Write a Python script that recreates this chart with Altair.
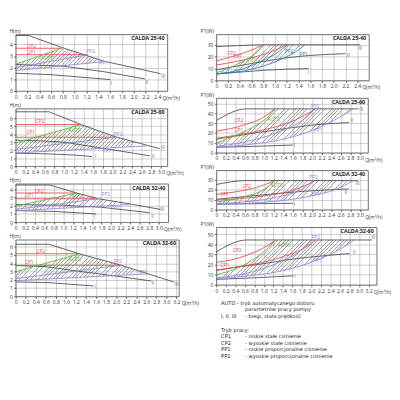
import altair as alt
import pandas as pd

FONT = "Open Sans"
LFONT = "DejaVu Sans"
RED = "#e8474f"
GREEN = "#5cb531"
LAV = "#8d88dd"
BLUE = "#2c7bc0"
DARK = "#4d4d4d"
NUM = "#666666"
HATCH = "#a3a3a3"
TXT = "#333333"

# ---------------- CALDA 25-40  H(m)
L1_I = [(0, 1.52), (0.6, 1.4), (1.6, 0.98)]
L1_II = [(0, 2.27), (0.8, 2.13), (1.5, 1.65), (2.19, 1.04)]
L1_III = [(0, 4.75), (0.22, 4.75), (0.8, 3.7), (1.5, 2.55), (2.46, 1.48)]
L1_CP1 = [(0, 3.11), (1.22, 3.11)]
L1_CP2 = [(0, 3.66), (0.78, 3.66)]
L1_AUTO = [(0, 2.3), (0.78, 3.66)]
L1_PP1 = [(0, 1.75), (1.52, 2.53)]
L1_PP2 = [(0, 2.0), (1.22, 3.11)]
L1_TOP = [(0, 2.3), (0.78, 3.66), (1.5, 2.55), (1.52, 2.53)]
L1_LAB = [("CP2", 0.27, 3.85), ("CP1", 0.27, 3.3), ("AUTO", 0.54, 2.81), ("PP2", 1.27, 3.39),
          ("PP1", 1.49, 2.35), ("III", 2.5, 1.26), ("II", 2.22, 0.77), ("I", 1.62, 0.71)]

# ---------------- CALDA 25-60  H(m)
L2_I = [(0, 1.62), (0.6, 1.55), (1.2, 1.4), (1.58, 1.2)]
L2_II = [(0, 3.25), (0.6, 3.15), (1.0, 3.0), (1.68, 2.35), (2.77, 1.3)]
L2_III = [(0, 6.8), (0.69, 6.8), (1.35, 5.2), (2.07, 3.65), (2.97, 2.2)]
L2_CP1 = [(0, 3.62), (2.07, 3.62)]
L2_CP2 = [(0, 5.2), (1.35, 5.2)]
L2_AUTO = [(0, 2.9), (1.35, 5.2)]
L2_PP1 = [(0, 1.65), (2.75, 2.55)]
L2_PP2 = [(0, 2.1), (2.07, 3.62)]
L2_TOP = [(0, 2.9), (1.35, 5.2), (2.07, 3.65), (2.75, 2.55)]
L2_LAB = [("CP2", 0.5, 5.6), ("CP1", 0.31, 4.24), ("AUTO", 1.22, 4.52), ("PP2", 2.11, 4.0),
          ("PP1", 1.88, 1.84), ("III", 3.04, 2.44), ("II", 2.84, 1.32), ("I", 1.65, 1.24)]

# ---------------- CALDA 32-40  H(m)
L3_I = [(0, 1.4), (0.8, 1.3), (1.69, 1.0)]
L3_II = [(0, 2.13), (1.0, 2.05), (1.8, 1.8), (2.8, 1.15)]
L3_III = [(0, 4.5), (0.71, 4.5), (1.3, 3.5), (1.72, 2.85), (2.4, 2.2), (3.03, 1.55)]
L3_CP1 = [(0, 2.83), (1.73, 2.83)]
L3_CP2 = [(0, 3.53), (1.28, 3.53)]
L3_AUTO = [(0, 1.94), (1.28, 3.53)]
L3_PP1 = [(0, 1.38), (2.45, 2.15)]
L3_PP2 = [(0, 1.55), (1.73, 2.83)]
L3_TOP = [(0, 1.94), (1.28, 3.53), (1.3, 3.5), (1.72, 2.85), (2.4, 2.2), (2.45, 2.15)]
L3_LAB = [("CP2", 0.49, 3.8), ("CP1", 0.29, 3.22), ("AUTO", 1.31, 3.1), ("PP2", 1.89, 3.41),
          ("PP1", 2.09, 1.74), ("III", 3.07, 1.55), ("II", 2.87, 0.7), ("I", 1.65, 0.7)]

# ---------------- CALDA 32-60  H(m)
L4_I = [(0, 1.75), (0.7, 1.65), (1.55, 1.25)]
L4_II = [(0, 3.72), (0.6, 3.6), (1.3, 3.0), (2.0, 2.45), (2.7, 1.86)]
L4_III = [(0, 6.3), (0.66, 6.3), (1.27, 5.15), (2.1, 3.76), (3.15, 1.74)]
L4_CP1 = [(0, 3.76), (2.1, 3.76)]
L4_CP2 = [(0, 5.15), (1.27, 5.15)]
L4_AUTO = [(0, 2.98), (1.27, 5.15)]
L4_PP1 = [(0, 1.9), (2.64, 2.72)]
L4_PP2 = [(0, 2.15), (2.1, 3.76)]
L4_TOP = [(0, 2.98), (1.27, 5.15), (2.1, 3.76), (2.64, 2.72)]
L4_LAB = [("CP2", 0.5, 5.5), ("CP1", 0.27, 4.15), ("AUTO", 1.17, 4.53), ("PP2", 2.03, 4.26),
          ("PP1", 2.55, 2.95), ("III", 3.2, 1.43), ("II", 2.73, 1.63), ("I", 1.58, 1.28)]

# ---------------- CALDA 25-40  P1(W)
R1_I = [(0, 5.5), (0.4, 7), (0.8, 8.5), (1.2, 9.5), (1.57, 10)]
R1_II = [(0, 9), (0.4, 12.5), (0.8, 16), (1.2, 19), (1.6, 21), (2.2, 22.5)]
R1_III = [(0, 28.5), (0.4, 29.3), (0.8, 30), (2.45, 30)]
R1_CP1 = [(0, 13), (0.3, 15.5), (0.6, 19), (0.9, 23.5), (1.21, 30)]
R1_CP2 = [(0, 16.5), (0.2, 19), (0.4, 22), (0.6, 25.5), (0.8, 30)]
R1_AUTO = [(0, 6.5), (0.2, 10), (0.42, 15.3), (0.61, 20.6), (0.8, 30)]
R1_PP1 = [(0, 5.5), (0.4, 7.5), (0.8, 12), (1.2, 20), (1.35, 24), (1.51, 30)]
R1_PP2 = [(0, 5.5), (0.4, 9), (0.8, 17), (1.0, 22), (1.2, 29.5)]
R1_TOP = R1_AUTO + [(1.51, 30)]
R1_LAB = [("CP2", 0.26, 23.3), ("CP1", 0.37, 20.1), ("AUTO", 0.62, 17.2), ("PP2", 1.24, 24.7),
          ("PP1", 1.49, 22.5), ("III", 2.45, 27.3), ("II", 2.25, 21.4), ("I", 1.57, 6.7)]

# ---------------- CALDA 25-60  P1(W)
R2_I = [(0, 5.5), (0.8, 6.5), (1.6, 7.8)]
R2_II = [(0, 13.7), (0.8, 20), (1.6, 25.5), (2.2, 29), (2.77, 30.5)]
R2_III = [(0, 32.7), (0.63, 44.5), (2.97, 44.5)]
R2_CP1 = [(0, 14.7), (0.5, 18.5), (0.97, 23), (1.63, 32.7), (2.07, 44.5)]
R2_CP2 = [(0, 22), (0.3, 24.5), (0.63, 29), (0.95, 35), (1.23, 44.5)]
R2_AUTO = [(0, 9.8), (0.43, 18), (0.83, 27.8), (1.05, 35), (1.23, 44.5)]
R2_PP1 = [(0, 5.6), (0.8, 9), (1.63, 16.5), (2.3, 29), (2.87, 44.5)]
R2_PP2 = [(0, 6.5), (0.6, 11), (1.3, 21), (1.8, 33), (2.07, 44.5)]
R2_TOP = R2_AUTO + [(2.87, 44.5)]
R2_LAB = [("CP2", 0.47, 32.7), ("CP1", 0.47, 22.9), ("AUTO", 1.2, 34.3), ("PP2", 2.07, 47.4),
          ("PP1", 2.13, 22.9), ("III", 3.03, 44.1), ("II", 2.83, 32.7), ("I", 1.63, 8.2)]

# ---------------- CALDA 32-40  P1(W)
R3_I = [(0, 5.5), (0.8, 6), (1.6, 6.5)]
R3_II = [(0, 10.5), (0.97, 15), (1.8, 18.5), (2.77, 21)]
R3_III = [(0, 25.5), (0.63, 29.4), (2.95, 29.4)]
R3_CP1 = [(0, 9.8), (0.97, 13.7), (1.63, 20), (2.07, 29.4)]
R3_CP2 = [(0, 15.4), (0.4, 18), (0.8, 22), (1.23, 29.4)]
R3_AUTO = [(0, 7.8), (0.63, 13.7), (1.0, 20.5), (1.23, 29.4)]
R3_PP1 = [(0, 5.6), (1.0, 7.5), (1.97, 13.7), (2.5, 20.5), (2.87, 29.4)]
R3_PP2 = [(0, 6.2), (0.7, 8.5), (1.3, 13), (1.8, 21), (2.03, 29.4)]
R3_TOP = R3_AUTO + [(2.87, 29.4)]
R3_LAB = [("CP2", 0.63, 24.2), ("CP1", 0.17, 15.4), ("AUTO", 1.27, 25.2), ("PP2", 2.03, 32.7),
          ("PP1", 2.07, 16.0), ("III", 2.95, 26.8), ("II", 2.71, 17.6), ("I", 1.63, 5.6)]

# ---------------- CALDA 32-60  P1(W)
R4_I = [(0, 5.4), (0.8, 7), (1.62, 8.9)]
R4_II = [(0, 14.5), (0.5, 18), (1.0, 21), (1.6, 25.5), (2.2, 28.5), (2.8, 31)]
R4_III = [(0, 32.7), (0.64, 44.4), (3.27, 44.4)]
R4_CP1 = [(0, 14.3), (0.4, 17.5), (0.81, 20.6), (1.45, 28.6), (1.8, 35), (2.09, 44.4)]
R4_CP2 = [(0, 22.2), (0.3, 24.5), (0.64, 29.2), (0.95, 35.5), (1.25, 44.4)]
R4_AUTO = [(0, 10.2), (0.44, 16.5), (0.84, 27), (1.05, 35), (1.25, 44.4)]
R4_PP1 = [(0, 6.3), (0.8, 9.5), (1.4, 14), (1.99, 22.2), (2.53, 33.3), (2.9, 44.4)]
R4_PP2 = [(0, 7), (0.6, 11), (1.31, 22), (1.75, 33), (2.02, 44.4)]
R4_TOP = R4_AUTO + [(2.9, 44.4)]
R4_LAB = [("CP2", 0.44, 34.3), ("CP1", 0.18, 19.7), ("AUTO", 1.42, 39.7), ("PP2", 2.09, 47.6),
          ("PP1", 2.12, 24.8), ("III", 3.3, 47.0), ("II", 2.9, 32.4), ("I", 1.65, 8.9)]

LEGEND_KEYS = ["AUTO - tryb automatycznego doboru", "", "I, II, III", "Tryb pracy:",
               "CP1", "CP2", "PP1", "PP2"]
LEGEND_DESC = ["", "parametrów pracy pompy", "- biegi, stała prędkość", "",
               "- niskie stałe ciśnienie", "- wysokie stałe ciśnienie",
               "- niskie proporcjonalne ciśnienie", "- wysokie proporcjonalne ciśnienie"]
LEGEND_ROW = [0, 0.95, 1.95, 4.2, 5.2, 6.2, 7.2, 8.2]


def interp(pts, x):
    for (x0, y0), (x1, y1) in zip(pts[:-1], pts[1:]):
        if x0 <= x <= x1:
            if x1 == x0:
                return y1
            return y0 + (y1 - y0) * (x - x0) / (x1 - x0)
    return pts[-1][1] if x > pts[-1][0] else pts[0][1]


def hatch_fill(w_px, h_px):
    r = h_px / w_px
    n = max(8, int(round(w_px * (1 + r * r) / 3.8)))
    clear = "rgba(255,255,255,0)"
    stops = []
    for k in range(n):
        a, b, c = k / n, (k + 0.22) / n, (k + 1) / n
        stops += [alt.GradientStop(offset=a, color=HATCH), alt.GradientStop(offset=b, color=HATCH),
                  alt.GradientStop(offset=b, color=clear), alt.GradientStop(offset=c, color=clear)]
    return alt.LinearGradient(gradient="linear", stops=stops, x1=0, y1=0, x2=1, y2=r)


def panel(title, ytitle, ytx, s, labels, top, bot, xmax, xlast, ymax, yticks, w, h,
          pp, smooth, extra=None):
    colors = {"I": DARK, "II": DARK, "III": DARK, "CP1": RED, "CP2": RED,
              "AUTO": GREEN, "PP1": pp, "PP2": pp}
    rows = []
    for name, pts in s.items():
        for q, v in pts:
            rows.append({"s": name, "q": q, "v": v, "c": colors[name]})
    df = pd.DataFrame(rows)
    xs = sorted(set([q for q, _ in top] + [q for q, _ in bot]))
    hdf = pd.DataFrame({"q": xs, "top": [interp(top, x) for x in xs],
                        "bot": [interp(bot, x) for x in xs]})
    ldf = pd.DataFrame([{"t": t, "q": q, "v": v,
                         "c": (NUM if t in ("I", "II", "III") else colors[t])}
                        for t, q, v in labels])
    nt = int(round(xlast / 0.2))
    xt = [round(0.2 * k, 1) for k in range(nt + 1)]
    xaxis = alt.Axis(values=xt, labelExpr="datum.value == 0 ? '0' : format(datum.value, '.1f')",
                     title="Q(m³/h)", titleX=xlast / xmax * w + 5, titleY=6.8,
                     titleAlign="left", titleBaseline="middle", titleFontSize=5,
                     titleFontWeight="normal", titleColor=TXT, grid=True, tickSize=2,
                     labelPadding=1.5, labelFontSize=5.2, labelColor=TXT, domain=False,
                     labelOverlap=False, labelFlush=False, tickColor="#555")
    yaxis = alt.Axis(values=yticks, title=ytitle, titleAngle=0, titleX=ytx, titleY=-2,
                     titleAlign="left", titleBaseline="alphabetic", titleFontSize=5.2,
                     titleFontWeight="normal", titleColor=TXT, grid=True, tickSize=2,
                     labelPadding=1.5, labelFontSize=5.2, labelColor=TXT, domain=False,
                     tickColor="#555")
    X = alt.X("q:Q", scale=alt.Scale(domain=[0, xmax], nice=False, zero=True), axis=xaxis)
    Y = alt.Y("v:Q", scale=alt.Scale(domain=[0, ymax], nice=False, zero=True), axis=yaxis)
    w_px = (max(xs) - min(xs)) / xmax * w
    vals = [v for _, v in top + bot]
    h_px = (max(vals) - min(vals)) / ymax * h
    interp_mode = "monotone" if smooth else "linear"
    area = alt.Chart(hdf).mark_area(color=hatch_fill(w_px, h_px), interpolate=interp_mode).encode(
        x=alt.X("q:Q", scale=alt.Scale(domain=[0, xmax], nice=False), axis=xaxis),
        y=alt.Y("top:Q", scale=alt.Scale(domain=[0, ymax], nice=False), axis=yaxis),
        y2="bot:Q")
    dark = alt.Chart(df[df.c == DARK]).mark_line(strokeWidth=0.9, interpolate=interp_mode).encode(
        x=X, y=Y, color=alt.Color("c:N", scale=None), detail="s:N")
    col = alt.Chart(df[df.c != DARK]).mark_line(strokeWidth=0.9, interpolate=interp_mode).encode(
        x=X, y=Y, color=alt.Color("c:N", scale=None), detail="s:N")
    lab = alt.Chart(ldf).mark_text(fontSize=5, font=FONT).encode(
        x=X, y=Y, text="t:N", color=alt.Color("c:N", scale=None))
    ttl = alt.Chart(pd.DataFrame({"t": [title]})).mark_text(
        align="right", baseline="middle", fontWeight="bold", fontSize=5.6, font=FONT,
        color="#222").encode(x=alt.value(w - 3), y=alt.value(4), text="t:N")
    layers = [area, dark, col, lab, ttl]
    if extra is not None:
        layers += extra
    return alt.layer(*layers).properties(width=w, height=h)


def series(p):
    g = globals()
    return {k: g[p + "_" + k] for k in ["I", "II", "III", "CP1", "CP2", "AUTO", "PP1", "PP2"]}


def legend_layers(y0, step, xk, xd):
    out = []
    for key, desc, row in zip(LEGEND_KEYS, LEGEND_DESC, LEGEND_ROW):
        for txt, xx in ((key, xk), (desc, xd)):
            if txt:
                out.append(alt.Chart(pd.DataFrame({"t": [txt]})).mark_text(
                    align="left", baseline="middle", fontSize=5.3, font=LFONT, color="#222"
                ).encode(x=alt.value(xx), y=alt.value(y0 + step * row), text="t:N"))
    return out


H = "H(m)"
P = "P1(W)"
L1 = panel("CALDA 25-40", H, -7, series("L1"), L1_LAB, L1_TOP, L1_PP1, 2.57, 2.4, 4.85,
           [0, 1, 2, 3, 4], 158, 59, LAV, False)
L2 = panel("CALDA 25-60", H, -7, series("L2"), L2_LAB, L2_TOP, L2_PP1, 3.13, 3.0, 7.2,
           [0, 1, 2, 3, 4, 5, 6], 158, 60, LAV, False)
L3 = panel("CALDA 32-40", H, -7, series("L3"), L3_LAB, L3_TOP, L3_PP1, 3.2, 3.0, 4.65,
           [0, 1, 2, 3, 4], 159, 40, LAV, False)
L4 = panel("CALDA 32-60", H, -7, series("L4"), L4_LAB, L4_TOP, L4_PP1, 3.25, 3.2, 6.85,
           [0, 1, 2, 3, 4, 5, 6], 170, 59, LAV, False)

R1 = panel("CALDA 25-40", P, -17, series("R1"), R1_LAB, R1_TOP, R1_PP1, 2.6, 2.4, 38.7,
           [0, 10, 20, 30], 159, 48, BLUE, True)
R2 = panel("CALDA 25-60", P, -17, series("R2"), R2_LAB, R2_TOP, R2_PP1, 3.17, 3.0, 55.5,
           [0, 10, 20, 30, 40, 50], 158, 57, LAV, True)
R3 = panel("CALDA 32-40", P, -17, series("R3"), R3_LAB, R3_TOP, R3_PP1, 3.17, 3.0, 39.8,
           [0, 10, 20, 30], 158, 41, LAV, True)
R4 = panel("CALDA 32-60", P, -17, series("R4"), R4_LAB, R4_TOP, R4_PP1, 3.37, 3.2, 57,
           [0, 10, 20, 30, 40, 50], 167, 60, LAV, True,
           extra=legend_layers(79, 6.7, 5, 30))

left = alt.vconcat(L1, L2, L3, L4, spacing=18.3, bounds="flush")
right = alt.vconcat(R1, R2, R3, R4, spacing=18.3, bounds="flush")

chart = alt.hconcat(left, right, spacing=0).properties(
    padding={"left": 0, "top": 13, "right": 0, "bottom": 0}
).configure(font=FONT).configure_view(stroke="#444", strokeWidth=0.8).configure_axis(
    gridColor="#9a9a9a", gridWidth=0.5, labelFont=FONT, titleFont=FONT)

chart.save("out.html", embed_options={"renderer": "svg", "actions": False})
